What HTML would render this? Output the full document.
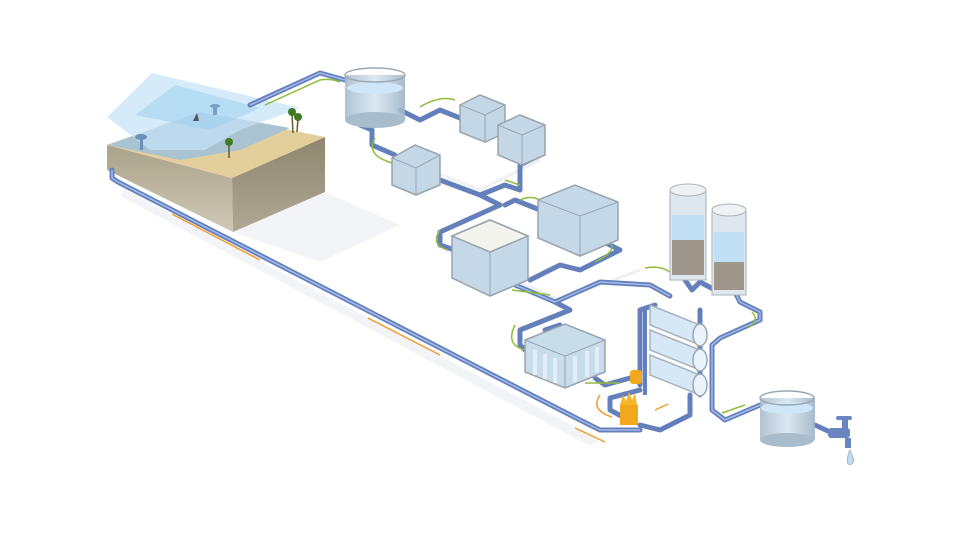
<!DOCTYPE html>
<html><head><meta charset="utf-8"><style>
html,body{margin:0;padding:0;background:#fff;width:960px;height:534px;overflow:hidden}
svg{display:block}
</style></head><body>
<svg width="960" height="534" viewBox="0 0 960 534" xmlns="http://www.w3.org/2000/svg">
<defs>
<linearGradient id="tank" x1="0" y1="0" x2="1" y2="0"><stop offset="0" stop-color="#a9bccb"/><stop offset=".5" stop-color="#d7e6f2"/><stop offset="1" stop-color="#9fb3c4"/></linearGradient>
<linearGradient id="sideA" x1="0" y1="0" x2="0" y2="1"><stop offset="0" stop-color="#aaa28a"/><stop offset="1" stop-color="#cfc8b5"/></linearGradient>
<linearGradient id="sideB" x1="0" y1="0" x2="0" y2="1"><stop offset="0" stop-color="#8f866f"/><stop offset="1" stop-color="#b0a896"/></linearGradient>
</defs>

<!-- shadows -->
<g fill="#f3f4f7">
<polygon points="233,232 325,192 400,225 320,262"/>
<polygon points="125,190 600,440 590,446 120,196"/>
</g>

<!-- beach block -->
<polygon points="107,145 232,178 233,232 107,170" fill="url(#sideA)"/>
<polygon points="232,178 325,137 325,192 233,232" fill="url(#sideB)"/>
<polygon points="107,145 200,112 325,137 232,178" fill="#e3cf9c"/>
<polygon points="107,145 200,112 290,128 240,150 180,160" fill="#a9c3d3"/>
<polygon points="107,117 152,73 300,108 240,130 205,150 150,150" fill="#c4e3f8" opacity=".7"/>
<polygon points="135,115 175,85 260,108 210,130" fill="#98d0f0" opacity=".5"/>
<!-- palms -->
<g stroke="#6b5a2a" stroke-width="1.5"><line x1="229" y1="158" x2="229" y2="143"/><line x1="293" y1="133" x2="292" y2="113"/><line x1="297" y1="132" x2="298" y2="118"/></g>
<g fill="#3f7a24"><circle cx="229" cy="142" r="4"/><circle cx="292" cy="112" r="4"/><circle cx="298" cy="117" r="4"/></g>
<path d="M193 121 l4 -8 l2 8z" fill="#555"/>
<rect x="213" y="107" width="4" height="8" fill="#7d9fc0"/><ellipse cx="215" cy="106" rx="5" ry="2" fill="#7d9fc0"/>
<rect x="140" y="138" width="3" height="12" fill="#6c8fb8"/><ellipse cx="141" cy="137" rx="6" ry="3" fill="#6c8fb8"/>

<!-- guide lines -->
<g fill="none" stroke="#eef0f4" stroke-width="3">
<polyline points="380,150 480,190 540,160"/>
<polyline points="445,250 560,300 640,270"/>
</g>

<!-- pipes -->
<g fill="none" stroke="#6480bc" stroke-width="5" stroke-linejoin="round" stroke-linecap="round">
<polyline points="112,170 112,178 118,182 580,420 600,430 640,430"/>
<polyline points="250,105 320,73 345,80"/>
<polyline points="400,110 420,120 440,110 460,118"/>
<polyline points="360,125 372,130 372,145 395,155"/>
<polyline points="440,180 480,195 505,185 520,190 520,165 540,155"/>
<polyline points="480,195 500,205 460,223 440,232 440,245 455,250"/>
<polyline points="505,205 515,200 540,210"/>
<polyline points="600,240 620,250 580,270 560,265 530,280"/>
<polyline points="515,285 555,302 600,282 650,285 670,296"/>
<polyline points="555,302 570,310 540,322 520,330 520,345 525,350"/>
<polyline points="685,188 685,280 692,290 700,282 715,290 715,212"/>
<polyline points="735,292 740,302 760,312 760,320 720,338 712,345 712,410 725,420 760,405"/>
<polyline points="545,330 560,325 565,345"/>
<polyline points="595,378 605,385 630,378"/>
<polyline points="640,385 640,310 655,305"/>
<polyline points="640,390 610,398 610,410 625,418"/>
<polyline points="640,425 660,430 690,415 690,395"/>
<polyline points="700,395 700,310"/>
<polyline points="815,425 830,432"/>
</g>
<g fill="none" stroke="#a3bbe8" stroke-width="1.5" stroke-linejoin="round">
<polyline points="112,170 112,178 118,182 580,420 600,430 640,430"/>
<polyline points="250,105 320,73 345,80"/>
<polyline points="735,292 740,302 760,312 760,320 720,338 712,345 712,410 725,420 760,405"/>
<polyline points="515,285 555,302 600,282 650,285 670,296"/>
</g>

<!-- flow arrows green -->
<g fill="none" stroke="#8fbb3a" stroke-width="1.5">
<path d="M265 105 L320 80 Q330 78 340 82"/>
<path d="M375 138 Q365 155 392 163"/>
<path d="M420 107 Q440 95 455 100"/>
<path d="M505 180 L520 185"/>
<path d="M440 230 Q430 245 448 250"/>
<path d="M520 200 Q530 195 540 200"/>
<path d="M608 240 Q620 250 595 262"/>
<path d="M512 290 L550 295"/>
<path d="M515 325 Q505 345 525 350"/>
<path d="M645 268 Q660 265 670 272"/>
<path d="M752 312 Q760 320 748 328"/>
<path d="M585 383 L620 383"/>
<path d="M722 413 L745 405"/>
</g>
<!-- orange arrows -->
<g fill="none" stroke="#f19a2a" stroke-width="1.5">
<path d="M172 214 L260 260"/>
<path d="M368 318 L440 355"/>
<path d="M575 428 L605 442"/>
<path d="M600 395 Q590 410 612 417"/>
<path d="M655 410 L668 404"/>
</g>

<!-- cylinder tank 1 -->
<g>
<rect x="345" y="75" width="60" height="45" fill="url(#tank)" opacity=".9"/>
<ellipse cx="375" cy="120" rx="30" ry="8" fill="#a8bccc"/>
<ellipse cx="375" cy="88" rx="28" ry="6" fill="#cfe6f6"/>
<ellipse cx="375" cy="75" rx="30" ry="7" fill="none" stroke="#9aa7b3" stroke-width="1.5"/>
</g>
<!-- glass boxes -->
<g stroke="#98a4ae" stroke-width="1.5">
<polygon points="392,158 415,145 440,155 440,185 416,195 392,185" fill="#c3d7e6"/>
<polygon points="460,105 480,95 505,105 505,133 485,142 460,132" fill="#c3d7e6"/>
<polygon points="498,125 520,115 545,125 545,155 522,165 498,155" fill="#c3d7e6"/>
<polygon points="538,200 575,185 618,202 618,240 580,256 538,238" fill="#c4d8e8"/>
<polygon points="452,236 490,220 528,236 528,280 490,296 452,278" fill="#c4d8e8"/>
<polygon points="452,236 490,220 528,236 490,252" fill="#f4f4ee"/>
<polygon points="525,340 565,324 605,340 605,372 565,388 525,372" fill="#c9dcea"/>
</g>
<g stroke="#98a4ae" stroke-width="1" fill="none">
<polyline points="392,158 416,168 440,155"/><line x1="416" y1="168" x2="416" y2="195"/>
<polyline points="460,105 485,115 505,105"/><line x1="485" y1="115" x2="485" y2="142"/>
<polyline points="498,125 522,135 545,125"/><line x1="522" y1="135" x2="522" y2="165"/>
<polyline points="538,200 580,216 618,202"/><line x1="580" y1="216" x2="580" y2="256"/>
<line x1="490" y1="252" x2="490" y2="296"/>
<polyline points="525,340 565,356 605,340"/><line x1="565" y1="356" x2="565" y2="388"/>
</g>
<g stroke="#e6f0fa" stroke-width="4" opacity=".9">
<line x1="535" y1="350" x2="535" y2="375"/><line x1="545" y1="354" x2="545" y2="379"/><line x1="555" y1="358" x2="555" y2="383"/><line x1="575" y1="356" x2="575" y2="382"/><line x1="587" y1="351" x2="587" y2="377"/><line x1="597" y1="347" x2="597" y2="372"/>
</g>

<!-- vertical columns -->
<g>
<rect x="670" y="190" width="36" height="90" fill="#dfe7ee" stroke="#a9b2ba"/>
<rect x="672" y="240" width="32" height="35" fill="#9e968a"/>
<rect x="672" y="215" width="32" height="25" fill="#c2e0f5"/>
<rect x="712" y="210" width="34" height="85" fill="#dfe7ee" stroke="#a9b2ba"/>
<rect x="714" y="262" width="30" height="28" fill="#9e968a"/>
<rect x="714" y="232" width="30" height="30" fill="#c2e0f5"/>
<ellipse cx="688" cy="190" rx="18" ry="6" fill="#eef2f5" stroke="#a9b2ba"/>
<ellipse cx="729" cy="210" rx="17" ry="6" fill="#eef2f5" stroke="#a9b2ba"/>
</g>
<!-- membrane rack -->
<g>
<line x1="645" y1="310" x2="645" y2="395" stroke="#6480bc" stroke-width="4"/>
<g fill="#d6e8f5" stroke="#a6b3bf" stroke-width="1.5">
<polygon points="650,305 700,325 700,345 650,325"/>
<polygon points="650,330 700,350 700,370 650,350"/>
<polygon points="650,355 700,375 700,395 650,375"/>
</g>
<g fill="#eaf3fa" stroke="#9aa7b3" stroke-width="1.5">
<ellipse cx="700" cy="335" rx="7" ry="11"/><ellipse cx="700" cy="360" rx="7" ry="11"/><ellipse cx="700" cy="385" rx="7" ry="11"/>
</g>
</g>
<!-- pump & turbine -->
<rect x="630" y="370" width="12" height="14" rx="3" fill="#f2a81c"/>
<rect x="620" y="405" width="18" height="20" fill="#f2a81c"/>
<path d="M620 405 l3 -10 l3 6 l3 -9 l3 8 l3 -7 l2 12z" fill="#f7b52a"/>

<!-- final tank -->
<g>
<rect x="760" y="398" width="55" height="42" fill="url(#tank)" opacity=".9"/>
<ellipse cx="787" cy="440" rx="27" ry="7" fill="#a8bccc"/>
<ellipse cx="787" cy="408" rx="26" ry="6" fill="#cfe6f6"/>
<ellipse cx="787" cy="398" rx="27" ry="7" fill="none" stroke="#9aa7b3" stroke-width="1.5"/>
</g>
<!-- faucet -->
<g fill="#6b84c2">
<rect x="828" y="428" width="22" height="10" rx="3"/>
<rect x="842" y="420" width="6" height="10"/>
<rect x="836" y="416" width="16" height="4" rx="2"/>
<path d="M845 438 l6 0 l0 10 l-6 0z"/>
</g>
<path d="M850 450 q-4 8 -2 14 q4 2 6 -4 z" fill="#c4dcf2" stroke="#9ab" stroke-width=".8"/>
</svg>
</body></html>
